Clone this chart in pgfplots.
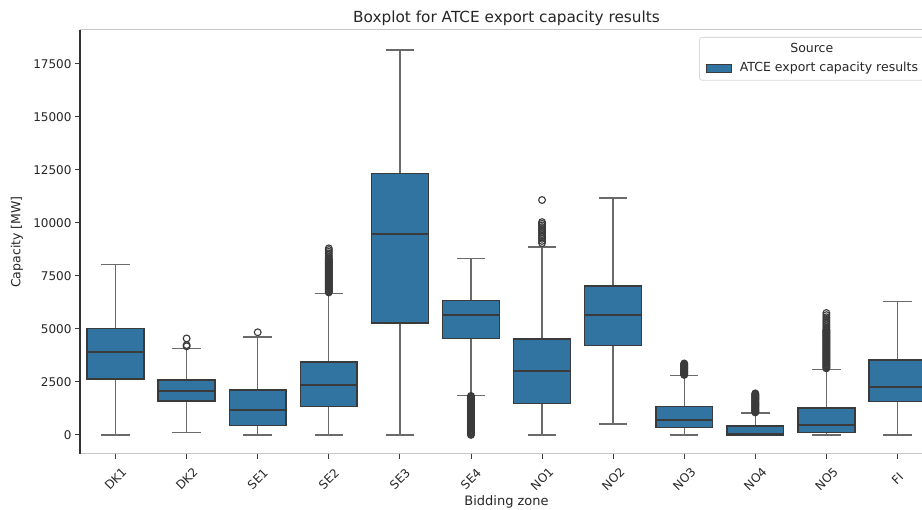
\documentclass[border=0pt]{standalone}
\usepackage{pgfplots}
\pgfplotsset{compat=1.18}
\usepgfplotslibrary{statistics}
\usepackage{fontspec}
\setmainfont{DejaVu Sans}
\definecolor{boxblue}{HTML}{3274A1}
\definecolor{edgegray}{HTML}{3A3A3A}
\definecolor{whiskgray}{HTML}{6A6A6A}
\setlength{\fboxsep}{0pt}
\setlength{\fboxrule}{0.7pt}
\begin{document}
\begin{tikzpicture}
\useasboundingbox (-80pt,-56pt) rectangle (842pt,454pt);
\clip (-80pt,-56pt) rectangle (842pt,454pt);
\begin{axis}[
  at={(0,0)}, anchor=south west,
  scale only axis, width=853pt, height=424pt,
  xmin=-0.5, xmax=11.5, ymin=-900, ymax=19100,
  clip=false,
  xtick={0,1,2,3,4,5,6,7,8,9,10,11},
  xticklabels={DK1,DK2,SE1,SE2,SE3,SE4,NO1,NO2,NO3,NO4,NO5,FI},
  ytick={0,2500,5000,7500,10000,12500,15000,17500},
  scaled y ticks=false,
  /pgf/number format/1000 sep={},
  /pgf/number format/assume math mode=true,
  tick align=outside, tick pos=left,
  major tick length=5pt,
  every tick/.style={draw=edgegray, line width=0.9pt},
  tick label style={font=\fontsize{12}{14}\selectfont, text=black!85},
  xticklabel style={yshift=-20pt, rotate=45, anchor=center},
  axis line style={draw=none},
  title={Boxplot for ATCE export capacity results},
  title style={font=\fontsize{15.3}{17}\selectfont, at={(axis description cs:0.5,1)}, anchor=center, yshift=6pt, text=black!85},
  xlabel={Bidding zone},
  xlabel style={font=\fontsize{13}{15}\selectfont, at={(axis description cs:0.5,-0.113)}, anchor=center, text=black!85},
  ylabel={Capacity [MW]},
  ylabel style={font=\fontsize{12.5}{14}\selectfont, at={(axis description cs:-0.074,0.5)}, anchor=center, rotate=0, text=black!85},
  boxplot/draw direction=y,
  boxplot/box extend=0.8,
  boxplot/whisker extend=0.4,
  boxplot/every box/.style={fill=boxblue, draw=edgegray, line width=1.5pt},
  boxplot/every median/.style={draw=edgegray, line width=2pt},
  boxplot/every whisker/.style={draw=whiskgray, line width=1.3pt},
  mark=o, mark size=3.4pt,
  mark options={draw=edgegray, fill=none, line width=1.1pt, solid},
]
% DK1
\addplot[draw=edgegray, boxplot prepared={draw position=0, lower whisker=0, lower quartile=2640, median=3920, upper quartile=5020, upper whisker=8050}] coordinates {};
% DK2
\addplot[draw=edgegray, boxplot prepared={draw position=1, lower whisker=125, lower quartile=1600, median=2070, upper quartile=2590, upper whisker=4080}]
  coordinates {(1,4180) (1,4240) (1,4550)};
% SE1
\addplot[draw=edgegray, boxplot prepared={draw position=2, lower whisker=0, lower quartile=440, median=1190, upper quartile=2120, upper whisker=4620}]
  coordinates {(2,4840)};
% SE2
\addplot[draw=edgegray, boxplot prepared={draw position=3, lower whisker=0, lower quartile=1330, median=2350, upper quartile=3450, upper whisker=6680}]
  coordinates {(3,6720) (3,6760) (3,6800) (3,6840) (3,6880) (3,6920) (3,6960) (3,7000) (3,7040) (3,7080) (3,7120) (3,7160) (3,7200) (3,7240) (3,7280) (3,7320) (3,7360) (3,7400) (3,7440) (3,7480) (3,7520) (3,7560) (3,7600) (3,7640) (3,7680) (3,7720) (3,7760) (3,7800) (3,7840) (3,7880) (3,7920) (3,7960) (3,8000) (3,8040) (3,8080) (3,8120) (3,8160) (3,8200) (3,8240) (3,8280) (3,8320) (3,8400) (3,8480) (3,8560) (3,8640) (3,8720) (3,8800)};
% SE3
\addplot[draw=edgegray, boxplot prepared={draw position=4, lower whisker=0, lower quartile=5290, median=9500, upper quartile=12330, upper whisker=18150}] coordinates {};
% SE4
\addplot[draw=edgegray, boxplot prepared={draw position=5, lower whisker=1870, lower quartile=4540, median=5640, upper quartile=6330, upper whisker=8330}]
  coordinates {(5,0) (5,40) (5,80) (5,120) (5,160) (5,200) (5,240) (5,280) (5,320) (5,360) (5,400) (5,440) (5,480) (5,520) (5,560) (5,600) (5,640) (5,680) (5,720) (5,760) (5,800) (5,840) (5,880) (5,920) (5,960) (5,1000) (5,1040) (5,1080) (5,1120) (5,1160) (5,1200) (5,1240) (5,1280) (5,1320) (5,1360) (5,1400) (5,1440) (5,1480) (5,1520) (5,1560) (5,1600) (5,1640) (5,1680) (5,1720) (5,1760) (5,1800) (5,1840)};
% NO1
\addplot[draw=edgegray, boxplot prepared={draw position=6, lower whisker=0, lower quartile=1490, median=3030, upper quartile=4530, upper whisker=8870}]
  coordinates {(6,9050) (6,9150) (6,9250) (6,9330) (6,9400) (6,9480) (6,9560) (6,9640) (6,9720) (6,9800) (6,9880) (6,9960) (6,10040) (6,11080)};
% NO2
\addplot[draw=edgegray, boxplot prepared={draw position=7, lower whisker=520, lower quartile=4220, median=5640, upper quartile=7030, upper whisker=11180}] coordinates {};
% NO3
\addplot[draw=edgegray, boxplot prepared={draw position=8, lower whisker=0, lower quartile=345, median=710, upper quartile=1330, upper whisker=2800}]
  coordinates {(8,2830) (8,2860) (8,2890) (8,2920) (8,2950) (8,2980) (8,3010) (8,3040) (8,3070) (8,3100) (8,3130) (8,3160) (8,3190) (8,3220) (8,3250) (8,3280) (8,3310) (8,3340) (8,3370)};
% NO4
\addplot[draw=edgegray, boxplot prepared={draw position=9, lower whisker=0, lower quartile=0, median=30, upper quartile=410, upper whisker=1030}]
  coordinates {(9,1060) (9,1090) (9,1120) (9,1150) (9,1180) (9,1210) (9,1240) (9,1270) (9,1300) (9,1330) (9,1360) (9,1390) (9,1420) (9,1450) (9,1480) (9,1510) (9,1540) (9,1570) (9,1600) (9,1630) (9,1660) (9,1690) (9,1720) (9,1750) (9,1780) (9,1810) (9,1840) (9,1870) (9,1900) (9,1930) (9,1960)};
% NO5
\addplot[draw=edgegray, boxplot prepared={draw position=10, lower whisker=0, lower quartile=110, median=470, upper quartile=1280, upper whisker=3100}]
  coordinates {(10,3140) (10,3180) (10,3220) (10,3260) (10,3300) (10,3340) (10,3380) (10,3420) (10,3460) (10,3500) (10,3540) (10,3580) (10,3620) (10,3660) (10,3700) (10,3740) (10,3780) (10,3820) (10,3860) (10,3900) (10,3940) (10,3980) (10,4020) (10,4060) (10,4100) (10,4140) (10,4180) (10,4220) (10,4260) (10,4300) (10,4340) (10,4380) (10,4420) (10,4460) (10,4500) (10,4540) (10,4580) (10,4620) (10,4660) (10,4700) (10,4740) (10,4780) (10,4820) (10,4860) (10,4900) (10,4940) (10,4980) (10,5060) (10,5140) (10,5220) (10,5300) (10,5380) (10,5460) (10,5550) (10,5650) (10,5750)};
% FI
\addplot[draw=edgegray, boxplot prepared={draw position=11, lower whisker=0, lower quartile=1570, median=2280, upper quartile=3530, upper whisker=6280}] coordinates {};
% spines
\draw[gray!45, line width=1pt] (rel axis cs:0,1) -- (rel axis cs:1,1);
\draw[gray!45, line width=1pt] (rel axis cs:0,0) -- (rel axis cs:1,0);
\draw[black!80, line width=1.3pt] (rel axis cs:0,0) -- (rel axis cs:0,1);
\node[draw=gray!30, line width=0.8pt, rounded corners=2.5pt, fill=white, anchor=north east, inner xsep=6pt, inner ysep=6pt,
  font=\fontsize{12.5}{14}\selectfont, align=center, text=black!85]
  at (rel axis cs:0.99,0.9835)
  {Source\\[5pt]\fcolorbox{edgegray}{boxblue}{\rule{0pt}{6.5pt}\rule{25pt}{0pt}}\hspace{8pt}ATCE export capacity results};
\end{axis}
\end{tikzpicture}
\end{document}
